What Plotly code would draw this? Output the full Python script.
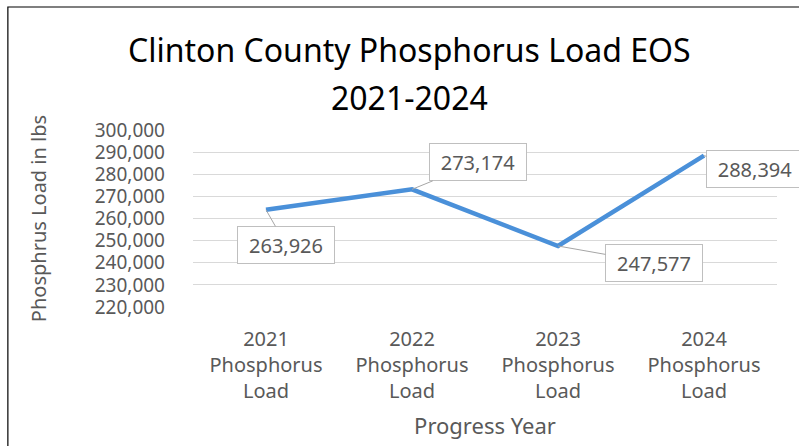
import plotly.graph_objects as go

categories = ["2021<br>Phosphorus<br>Load", "2022<br>Phosphorus<br>Load",
              "2023<br>Phosphorus<br>Load", "2024<br>Phosphorus<br>Load"]
values = [263926, 273174, 247577, 288394]
label_text = ["263,926", "273,174", "247,577", "288,394"]
label_offsets = [(20, 35), (66, -27), (96, 17), (51, 13)]
y_ticks = [220000, 230000, 240000, 250000, 260000, 270000, 280000, 290000, 300000]
title_lines = ["Clinton County Phosphorus Load EOS", "2021-2024"]

FONT = "Noto Sans"
GRAY = "#595959"

fig = go.Figure()
fig.add_trace(go.Scatter(
    x=list(range(len(categories))), y=values, mode="lines",
    line=dict(color="#4A90D9", width=4.5), hoverinfo="skip", showlegend=False,
))

for i, (v, t, (ax, ay)) in enumerate(zip(values, label_text, label_offsets)):
    fig.add_annotation(
        x=i, y=v, xref="x", yref="y", text=t,
        showarrow=True, arrowhead=0, arrowwidth=1, arrowcolor="#A6A6A6",
        ax=ax, ay=ay, axref="pixel", ayref="pixel",
        width=84, height=24,
        bgcolor="white", bordercolor="#BFBFBF", borderwidth=1, borderpad=6,
        font=dict(family=FONT, size=20, color=GRAY),
    )

# title (two lines, Excel-like spacing)
for txt, yp in zip(title_lines, [1.452, 1.186]):
    fig.add_annotation(text=txt, xref="paper", yref="paper", x=0.37, y=yp,
                       xanchor="center", yanchor="middle", showarrow=False,
                       font=dict(family=FONT, size=32, color="black"))

fig.add_shape(type="rect", xref="paper", yref="paper",
              x0=-0.317, x1=1.2, y0=-1.0, y1=1.695,
              line=dict(color="black", width=1.2), fillcolor="rgba(0,0,0,0)")

fig.update_layout(
    width=799, height=446,
    margin=dict(l=193, r=22, t=130, b=139, autoexpand=False),
    paper_bgcolor="white", plot_bgcolor="white",
    font=dict(family=FONT, color=GRAY),
    hovermode=False,
    xaxis=dict(
        tickmode="array", tickvals=list(range(len(categories))), ticktext=categories,
        range=[-0.5, 3.5], showgrid=False, zeroline=False, showline=False, ticks="",
        automargin=False, ticklabelstandoff=18, fixedrange=True,
        tickfont=dict(family=FONT, size=20, color=GRAY),
        title=dict(text="Progress Year", font=dict(family=FONT, size=22, color=GRAY), standoff=15),
    ),
    yaxis=dict(
        range=[220000, 300000], tickvals=y_ticks, tickformat=",d",
        showgrid=True, gridcolor="#D9D9D9", gridwidth=1, zeroline=False, showline=False,
        automargin=False, ticklabelstandoff=27, fixedrange=True,
        ticks="", tickfont=dict(family=FONT, size=19, color=GRAY),
        title=dict(text="Phosphrus Load in lbs", font=dict(family=FONT, size=20, color=GRAY), standoff=42),
    ),
)

fig.write_html("out.html", config={"displayModeBar": False},
               post_script="document.body.style.margin='0';document.body.style.overflow='hidden';")
